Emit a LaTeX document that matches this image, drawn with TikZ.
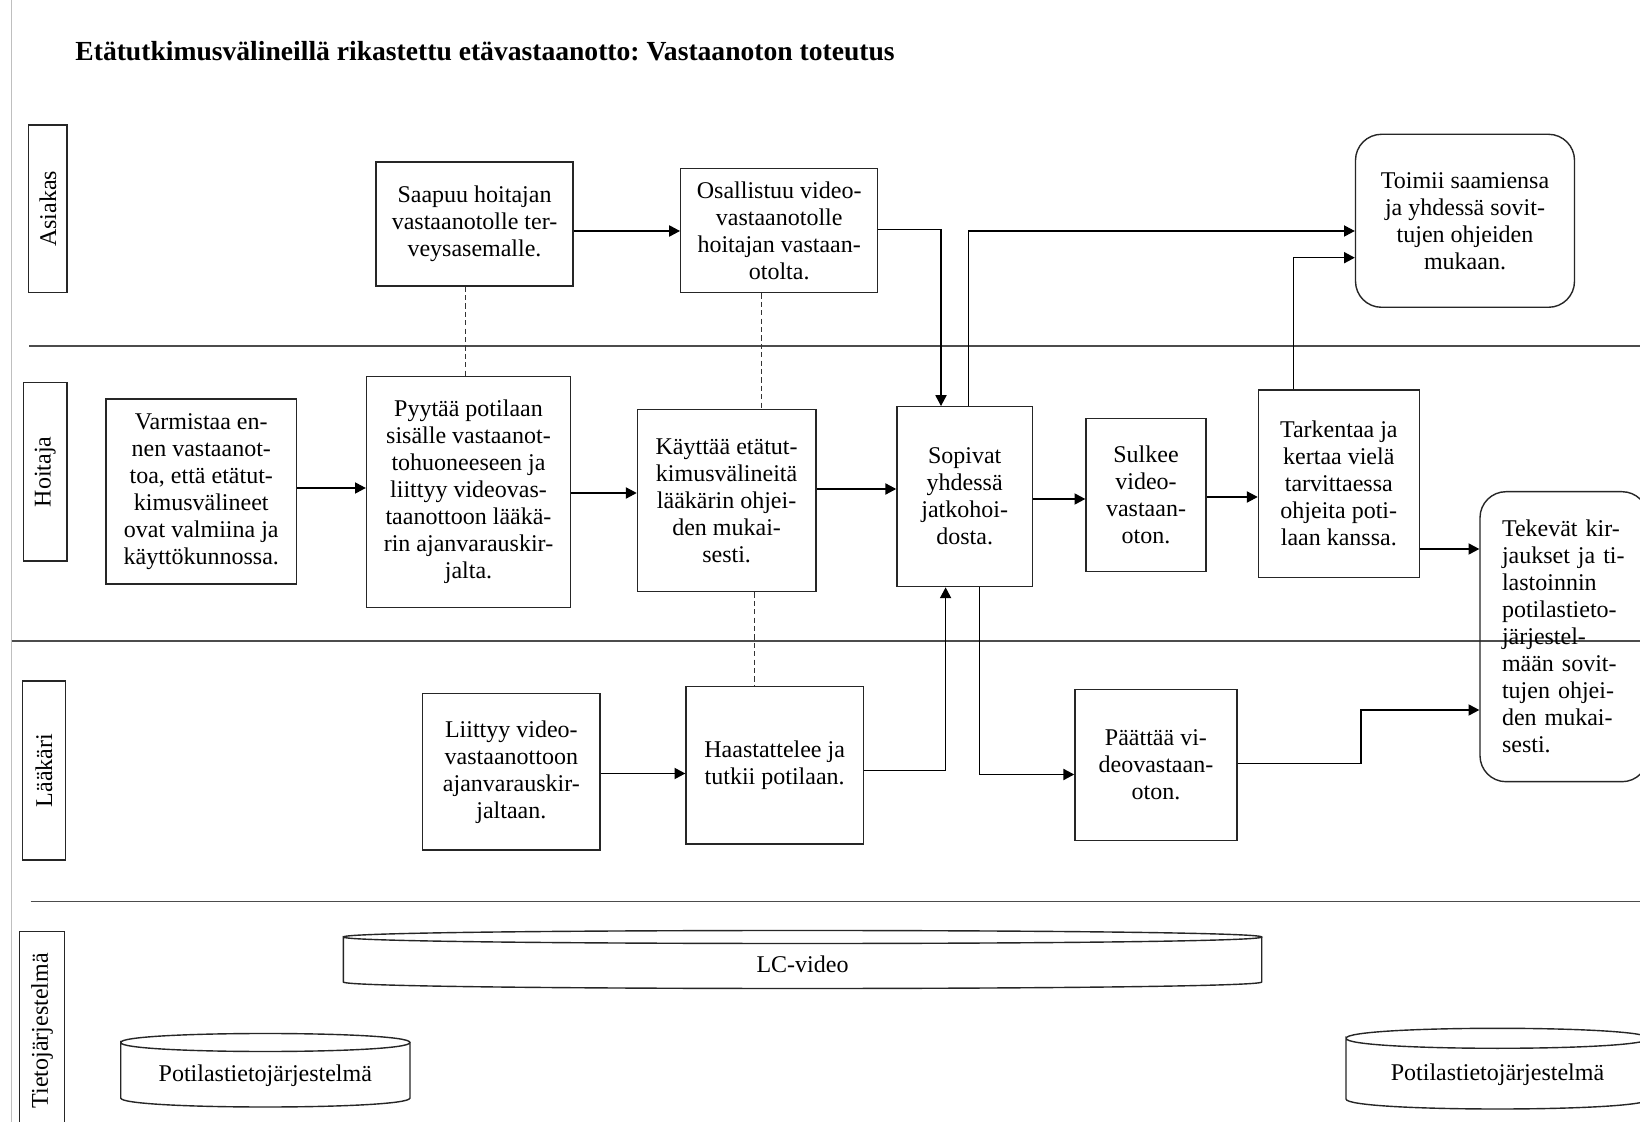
\documentclass[tikz,border=0pt]{standalone}
\usepackage{fontspec}
\setmainfont{Liberation Serif}
\usetikzlibrary{arrows.meta}
\frenchspacing

% flat drum (database) outline: x-left, x-right, y of top rim, y of bottom rim, rim half-height
\newcommand{\drumpath}[5]{%
  \draw[drumline] (#1,#3) .. controls (#1,{#3-4/3*#5}) and (#2,{#3-4/3*#5}) .. (#2,#3)
    .. controls (#2,{#3+4/3*#5}) and (#1,{#3+4/3*#5}) .. (#1,#3)
    -- (#1,#4) .. controls (#1,{#4+4/3*#5}) and (#2,{#4+4/3*#5}) .. (#2,#4) -- (#2,#3);}

\begin{document}
\begin{tikzpicture}[x=0.5pt,y=-0.5pt,
  every node/.style={font=\fontsize{12}{13.5}\selectfont},
  stepbox/.style={draw=black!85, line width=0.7pt, align=center, inner sep=2pt},
  softbox/.style={stepbox, rounded corners=13pt},
  lanelabel/.style={draw=black!85, line width=0.7pt, rotate=90, inner sep=0pt},
  laneline/.style={draw=black!70, line width=0.9pt},
  arr/.style={draw=black, line width=0.6pt, -{Triangle[length=5.4pt,width=5.6pt]}},
  dsh/.style={draw=black!80, line width=0.5pt, dash pattern=on 2.6pt off 1.6pt},
  drumline/.style={draw=black!85, line width=0.7pt},
  dbtext/.style={anchor=base, inner sep=0pt}
]
\useasboundingbox (0,0) rectangle (1640,1122);
\clip (0,0) rectangle (1640,1122);
\fill[white] (0,0) rectangle (1640,1122);

% page edge
\draw[black!25, line width=0.6pt] (11.5,0) -- (11.5,1122);

% title
\node[font=\bfseries\fontsize{13.8}{16}\selectfont, anchor=base west, inner sep=0pt] (title)
  at (75,60.5) {Etätutkimusvälineillä rikastettu etävastaanotto: Vastaanoton toteutus};

% lane separators
\draw[laneline] (29,346) -- (1640,346);
\draw[laneline] (11.7,641) -- (1640,641);
\draw[laneline] (30.7,901.5) -- (1640,901.5);

% lane labels
\node[lanelabel, minimum width=83.85pt, minimum height=19.15pt] (lasi) at (47.85,208.85) {Asiakas};
\node[lanelabel, minimum width=89.15pt, minimum height=21.65pt] (lhoi) at (45.35,471.85) {Hoitaja};
\node[lanelabel, minimum width=89.5pt, minimum height=21.7pt] (llaa) at (44,770.5) {Lääkäri};
\node[lanelabel, minimum width=99.15pt, minimum height=22.3pt] (ltie) at (42,1030.85) {Tietojärjestelmä};

% Asiakas
\node[stepbox, minimum width=98.5pt, minimum height=62pt] (saa) at (474.5,224)
  {Saapuu hoitajan\\vastaanotolle ter-\\veysasemalle.};
\node[stepbox, minimum width=98.5pt, minimum height=62.2pt] (osa) at (779.2,230.5)
  {Osallistuu video-\\vastaanotolle\\hoitajan vastaan-\\otolta.};
\node[softbox, minimum width=109.5pt, minimum height=86.5pt] (toi) at (1465,220.8)
  {Toimii saamiensa\\ja yhdessä sovit-\\tujen ohjeiden\\mukaan.};

% Hoitaja
\node[stepbox, minimum width=95.3pt, minimum height=92.5pt] (var) at (201.3,491.5)
  {Varmistaa en-\\nen vastaanot-\\toa, että etätut-\\kimusvälineet\\ovat valmiina ja\\käyttökunnossa.};
\node[stepbox, minimum width=102pt, minimum height=115.4pt] (pyy) at (468.5,492.1)
  {Pyytää potilaan\\sisälle vastaanot-\\tohuoneeseen ja\\liittyy videovas-\\taanottoon lääkä-\\rin ajanvarauskir-\\jalta.};
\node[stepbox, minimum width=89.2pt, minimum height=91.2pt] (kay) at (726.6,500.5)
  {Käyttää etätut-\\kimusvälineitä\\lääkärin ohjei-\\den mukai-\\sesti.};
\node[stepbox, minimum width=67.8pt, minimum height=90pt] (sop) at (964.7,496.7)
  {Sopivat\\yhdessä\\jatkohoi-\\dosta.};
\node[stepbox, minimum width=60pt, minimum height=76.7pt] (sul) at (1146,495)
  {Sulkee\\video-\\vastaan-\\oton.};
\node[stepbox, minimum width=80.4pt, minimum height=93.7pt] (tar) at (1338.8,483.7)
  {Tarkentaa ja\\kertaa vielä\\tarvittaessa\\ohjeita poti-\\laan kanssa.};
\node[softbox, align=left, text width=62pt, inner xsep=10.85pt, minimum width=84pt,
  minimum height=145pt] (tek) at (1564,636.7)
  {Tekevät kir-\\jaukset ja ti-\\lastoinnin\\potilastieto-\\järjestel-\\mään sovit-\\tujen ohjei-\\den mukai-\\sesti.};

% Lääkäri
\node[stepbox, minimum width=88.65pt, minimum height=78.15pt] (lii) at (511.35,771.85)
  {Liittyy video-\\vastaanottoon\\ajanvarauskir-\\jaltaan.};
\node[stepbox, minimum width=88.65pt, minimum height=78.65pt] (haa) at (774.65,765.35)
  {Haastattelee ja\\tutkii potilaan.};
\node[stepbox, minimum width=81.05pt, minimum height=75.7pt] (paa) at (1155.95,765)
  {Päättää vi-\\deovastaan-\\oton.};

% Tietojärjestelmä
\drumpath{343.3}{1261.7}{937}{982}{6.5}
\node[dbtext] (lcv) at (802.5,972.7) {LC-video};
\drumpath{120.7}{410}{1042.5}{1098}{9}
\node[dbtext] (pt1) at (265.3,1081.7) {Potilastietojärjestelmä};
\drumpath{1346}{1649}{1038.3}{1099}{10}
\node[dbtext] (pt2) at (1497.5,1080) {Potilastietojärjestelmä};

% flow
\draw[arr] (var.east |- 0,488) -- (pyy.west |- 0,488);
\draw[arr] (pyy.east |- 0,493) -- (kay.west |- 0,493);
\draw[arr] (kay.east |- 0,489) -- (sop.west |- 0,489);
\draw[arr] (sop.east |- 0,499) -- (sul.west |- 0,499);
\draw[arr] (sul.east |- 0,497) -- (tar.west |- 0,497);
\draw[arr] (tar.east |- 0,549) -- (tek.west |- 0,549);
\draw[arr] (saa.east |- 0,231) -- (osa.west |- 0,231);
\draw[arr] (osa.east |- 0,229.3) -| (sop.north -| 941,0);
\draw[arr] (sop.north -| 968.4,0) |- (toi.west |- 0,231);
\draw[arr] (tar.north -| 1293.5,0) |- (toi.west |- 0,257.7);
\draw[arr] (lii.east |- 0,773.5) -- (haa.west |- 0,773.5);
\draw[arr] (haa.east |- 0,770.5) -| (sop.south -| 945.6,0);
\draw[arr] (sop.south -| 979.3,0) |- (paa.west |- 0,774.5);
\draw[arr] (paa.east |- 0,763.3) -| (1361,710) -- (tek.west |- 0,710);

% links between lanes
\draw[dsh] (saa.south -| 465,0) -- (pyy.north -| 465,0);
\draw[dsh] (osa.south -| 761.8,0) -- (kay.north -| 761.8,0);
\draw[dsh] (kay.south -| 754,0) -- (haa.north -| 754,0);

\end{tikzpicture}
\end{document}
